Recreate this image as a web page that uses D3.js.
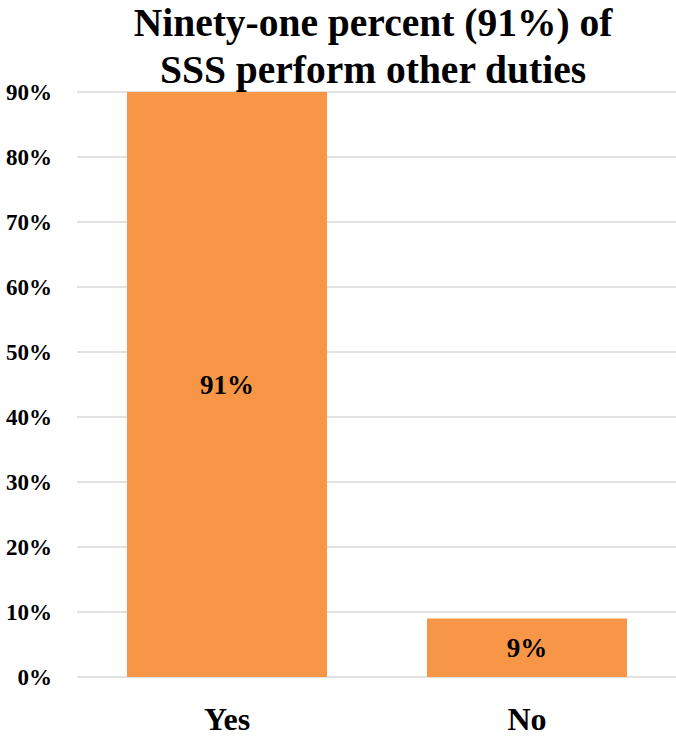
<!DOCTYPE html>
<html>
<head>
<meta charset="utf-8">
<script src="https://cdn.jsdelivr.net/npm/d3@7"></script>
<style>
  html, body { margin: 0; padding: 0; background: #fff; }
  svg { display: block; }
</style>
</head>
<body>
<svg id="chart" width="676" height="736"></svg>
<script>
// Share of SSS who perform other duties
const categories = ["Yes", "No"];
const values = [0.91, 0.09];
const valueLabels = ["91%", "9%"];
const yTicks = [0, 0.1, 0.2, 0.3, 0.4, 0.5, 0.6, 0.7, 0.8, 0.9];
const titleLines = ["Ninety-one percent (91%) of", "SSS perform other duties"];

const W = 676, H = 736;
const plot = { left: 77, right: 677, top: 92, bottom: 677 };
const FONT = "Liberation Serif";

const svg = d3.select("#chart");

const x = d3.scaleBand()
  .domain(categories)
  .range([plot.left, plot.right])
  .paddingInner(1 / 3)
  .paddingOuter(1 / 6);

const y = d3.scaleLinear()
  .domain([0, 0.9])
  .range([plot.bottom, plot.top]);

// horizontal gridlines
svg.append("g")
  .selectAll("line")
  .data(yTicks)
  .join("line")
  .attr("x1", plot.left)
  .attr("x2", W)
  .attr("y1", d => y(d))
  .attr("y2", d => y(d))
  .attr("stroke", "#d9d9d9")
  .attr("stroke-width", 1.5);

// y axis labels
const yAxis = d3.axisLeft(y)
  .tickValues(yTicks)
  .tickFormat(d3.format(".0%"))
  .tickSize(0)
  .tickPadding(0);

svg.append("g")
  .attr("transform", "translate(52,0)")
  .call(yAxis)
  .call(g => g.select(".domain").remove())
  .call(g => g.selectAll("text")
    .style("font-family", FONT)
    .style("font-weight", "bold")
    .style("font-size", "23px")
    .attr("fill", "#000")
    .attr("dy", "0.33em"));

// bars, clipped to the plotting area
svg.append("clipPath")
  .attr("id", "plot-clip")
  .append("rect")
  .attr("x", plot.left)
  .attr("y", plot.top)
  .attr("width", plot.right - plot.left)
  .attr("height", plot.bottom - plot.top);

const data = categories.map((c, i) => ({ c, v: values[i], label: valueLabels[i] }));

svg.append("g")
  .attr("clip-path", "url(#plot-clip)")
  .selectAll("rect")
  .data(data)
  .join("rect")
  .attr("x", d => x(d.c))
  .attr("y", d => y(d.v))
  .attr("width", x.bandwidth())
  .attr("height", d => y(0) - y(d.v))
  .attr("fill", "#F79646");

// value labels centred in the visible part of each bar
svg.append("g")
  .selectAll("text")
  .data(data)
  .join("text")
  .attr("x", d => x(d.c) + x.bandwidth() / 2)
  .attr("y", d => (Math.max(y(d.v), plot.top) + y(0)) / 2)
  .attr("dy", "0.34em")
  .attr("text-anchor", "middle")
  .style("font-family", FONT)
  .style("font-weight", "bold")
  .style("font-size", "27px")
  .text(d => d.label);

// category labels
svg.append("g")
  .selectAll("text")
  .data(categories)
  .join("text")
  .attr("x", d => x(d) + x.bandwidth() / 2)
  .attr("y", 730)
  .attr("text-anchor", "middle")
  .style("font-family", FONT)
  .style("font-weight", "bold")
  .style("font-size", "32px")
  .text(d => d);

// two-line title
svg.append("g")
  .selectAll("text")
  .data(titleLines)
  .join("text")
  .attr("x", 373)
  .attr("y", (d, i) => 36 + i * 47)
  .attr("text-anchor", "middle")
  .style("font-family", FONT)
  .style("font-weight", "bold")
  .style("font-size", "39.5px")
  .text(d => d);
</script>
</body>
</html>
